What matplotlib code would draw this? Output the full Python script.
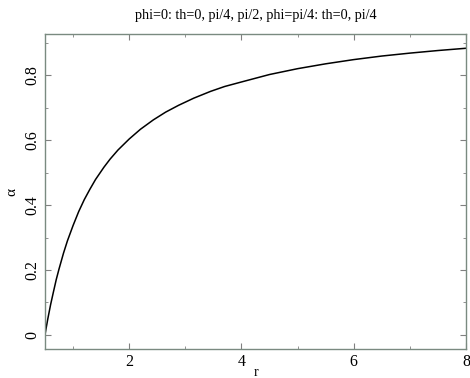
import matplotlib
matplotlib.use("Agg")
import matplotlib.pyplot as plt
from matplotlib.ticker import MultipleLocator

r = [0.5, 0.52, 0.55, 0.6, 0.65, 0.7, 0.75, 0.83, 0.9, 1.0, 1.1, 1.2, 1.3, 1.4,
     1.55, 1.66, 1.8, 2.0, 2.2, 2.43, 2.65, 2.88, 3.15, 3.45, 3.7, 4.0, 4.5, 5.0,
     5.5, 6.0, 6.5, 7.0, 7.5, 8.0]
alpha = [0.0, 0.020, 0.049, 0.093, 0.132, 0.170, 0.203, 0.252, 0.290, 0.337,
         0.380, 0.417, 0.449, 0.479, 0.517, 0.542, 0.570, 0.604, 0.634, 0.663,
         0.687, 0.708, 0.730, 0.751, 0.766, 0.780, 0.803, 0.821, 0.836, 0.849,
         0.860, 0.869, 0.877, 0.884]

title = "phi=0: th=0, pi/4, pi/2, phi=pi/4: th=0, pi/4"
xlabel = "r"
ylabel = "α"

plt.rcParams['font.family'] = ['Liberation Serif', 'DejaVu Serif']
fig = plt.figure(figsize=(4.7, 3.78), dpi=100)
ax = fig.add_axes([45/470, 1-349/378, (466-45)/470, (349-34)/378])
ax.plot(r, alpha, color='black', lw=1.1)
ax.set_xlim(0.5, 8)
ax.set_ylim(-0.044, 0.928)
ax.xaxis.set_major_locator(MultipleLocator(2))
ax.xaxis.set_minor_locator(MultipleLocator(1))
ax.yaxis.set_major_locator(MultipleLocator(0.2))
ax.yaxis.set_minor_locator(MultipleLocator(0.1))
ax.set_yticks([0, 0.2, 0.4, 0.6, 0.8])
ax.set_yticklabels(['0', '0.2', '0.4', '0.6', '0.8'], rotation=90, va='center')
ax.tick_params(which='both', direction='in', top=True, right=True, labelsize=11.5,
               color='#808080')
ax.tick_params(which='major', length=4)
ax.tick_params(which='minor', length=2.5)
for s in ax.spines.values():
    s.set_color('#7a8a80')
    s.set_linewidth(1.0)
ax.set_title(title, fontsize=10.2, pad=11)
ax.set_xlabel(xlabel, fontsize=10, labelpad=-3)
ax.set_ylabel(ylabel, fontsize=11)
fig.savefig("out.png", dpi=100)
